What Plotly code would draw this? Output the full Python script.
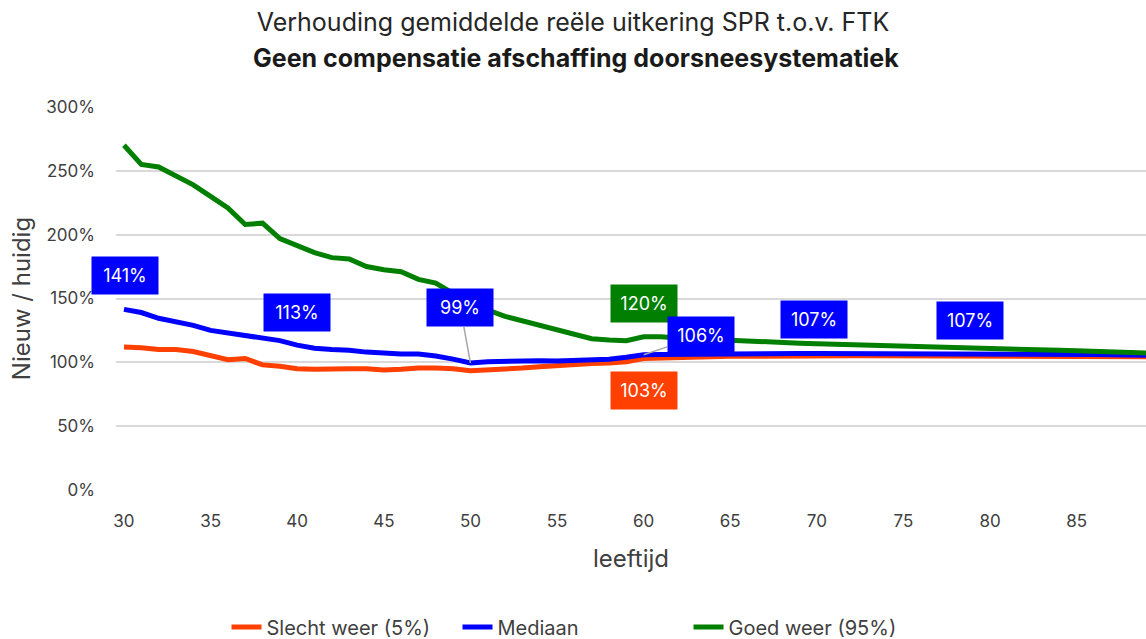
import plotly.graph_objects as go

ages = list(range(30, 90))

slecht = [112, 111.5, 110, 110, 108.5, 105, 102, 103, 98, 97,
          95, 94.5, 95, 95, 95, 94, 94.5, 95.5, 95.5, 95,
          93.5, 94, 95, 95.5, 96.5, 97.5, 98.5, 99, 99.5, 100.5,
          103, 103.5, 104, 104.3, 104.5, 104.7, 104.8, 105, 105, 105,
          105.2, 105.2, 105.2, 105.2, 105.2, 105.2, 105.1, 105.1, 105.1, 105,
          105, 105, 104.9, 104.8, 104.8, 104.7, 104.6, 104.5, 104.4, 104.3]

mediaan = [141.5, 139, 134.5, 132, 129, 125, 123, 121, 119, 117,
           113.5, 111, 110, 109.5, 108, 107, 106.5, 106.5, 105, 102.5,
           99.5, 100.5, 101, 101.2, 101.2, 101, 101.2, 101.5, 102.5, 104,
           106, 106.2, 106.4, 106.5, 106.6, 106.7, 106.8, 106.9, 107, 107,
           107, 107, 107, 107, 107, 107, 107, 107, 107, 107,
           107, 106.9, 106.8, 106.7, 106.5, 106.3, 106.1, 105.9, 105.7, 105.5]

goed = [270, 255, 253, 245.5, 239, 230, 221, 208, 209, 197,
        191, 186, 182, 181, 175, 172.5, 171, 165, 162, 154,
        148, 141, 136, 132.5, 128, 125, 122, 118.5, 117.5, 117,
        120, 120, 119, 118.3, 117.7, 117.2, 116.6, 116, 115.5, 115,
        114.5, 114.2, 113.9, 113.6, 113.3, 113, 112.6, 112.2, 111.8, 111.4,
        111, 110.6, 110.2, 109.8, 109.4, 109, 108.6, 108.2, 107.8, 107.4]

series_names = ["Slecht weer (5%)", "Mediaan", "Goed weer (95%)"]
colors = ["#FF4000", "#0000FF", "#007F00"]

# labels: (age, value, text, series index)
labels = [
    (30, 141.5, "141%", 1),
    (40, 113.5, "113%", 1),
    (50, 99.5, "99%", 1),
    (60, 120, "120%", 2),
    (60, 106, "106%", 1),
    (60, 103, "103%", 0),
    (70, 107, "107%", 1),
    (80, 107, "107%", 1),
]

title_line1 = "Verhouding gemiddelde reële uitkering SPR t.o.v. FTK"
title_line2 = "Geen compensatie afschaffing doorsneesystematiek"

FONT = "Inter"
TXT = "#404040"

fig = go.Figure()
for name, vals, col in zip(series_names, [slecht, mediaan, goed], colors):
    fig.add_trace(go.Scatter(x=ages, y=vals, name=name, mode="lines",
                             line=dict(color=col, width=5),
                             cliponaxis=False))

# label offsets (pixel) per label
offsets = [
    dict(xshift=1, yshift=34),
    dict(xshift=0, yshift=33),
    dict(arrow=True, ax=-10, ay=-55),
    dict(xshift=0, yshift=33),
    dict(arrow=True, ax=57, ay=-19),
    dict(xshift=0, yshift=-32),
    dict(xshift=-3, yshift=34),
    dict(xshift=-20, yshift=33),
]

for (age, val, txt, si), off in zip(labels, offsets):
    common = dict(x=age, y=val, xref="x", yref="y", text=txt,
                  font=dict(family=FONT, size=18, color="white"),
                  bgcolor=colors[si], width=62, height=33, borderpad=2,
                  align="center", valign="middle")
    if off.get("arrow"):
        fig.add_annotation(**common, showarrow=True, ax=off["ax"], ay=off["ay"],
                           arrowhead=0, arrowwidth=1.5, arrowcolor="#A6A6A6",
                           standoff=0, startstandoff=0)
    else:
        fig.add_annotation(**common, showarrow=False,
                           xshift=off["xshift"], yshift=off["yshift"])

fig.add_annotation(text="<b>" + title_line2 + "</b>", xref="paper", yref="paper",
                   x=0.5 - 55 / 1030, y=1 + (107 - 58) / 383, showarrow=False,
                   xanchor="center", yanchor="middle",
                   font=dict(family=FONT, size=25, color="#1A1A1A"))

fig.update_layout(
    width=1146, height=639,
    margin=dict(l=116, r=0, t=107, b=149, autoexpand=False),
    paper_bgcolor="white", plot_bgcolor="white",
    title=dict(text=title_line1, x=0.5, xanchor="center", xref="container",
               y=1 - 22 / 639, yref="container", yanchor="middle",
               font=dict(family=FONT, size=25, color="#262626")),
    font=dict(family=FONT, color=TXT),
    showlegend=True,
    legend=dict(orientation="h", x=0.5, xanchor="center", xref="container",
                y=1 - 627 / 639, yref="container", yanchor="middle",
                font=dict(family=FONT, size=20, color=TXT),
                itemwidth=30, tracegroupgap=0,
                entrywidth=186, entrywidthmode="pixels"),
    xaxis=dict(range=[29.54, 89.0], tick0=30, dtick=5, showgrid=False,
               zeroline=False, showline=False, ticks="", automargin=False,
               tickfont=dict(family=FONT, size=17, color=TXT),
               ticklabelstandoff=19,
               title=dict(text="leeftijd", font=dict(family=FONT, size=24, color=TXT),
                          standoff=20)),
    yaxis=dict(range=[0, 300], dtick=50, ticksuffix="%", showgrid=True,
               gridcolor="#D9D9D9", gridwidth=1.5, zeroline=False,
               showline=False, ticks="", automargin=False,
               tickfont=dict(family=FONT, size=17, color=TXT),
               ticklabelstandoff=20,
               title=dict(text="Nieuw / huidig", font=dict(family=FONT, size=24, color=TXT),
                          standoff=8)),
)

fig.write_html("out.html", config={"displayModeBar": False},
               post_script="document.body.style.margin='0px';")
